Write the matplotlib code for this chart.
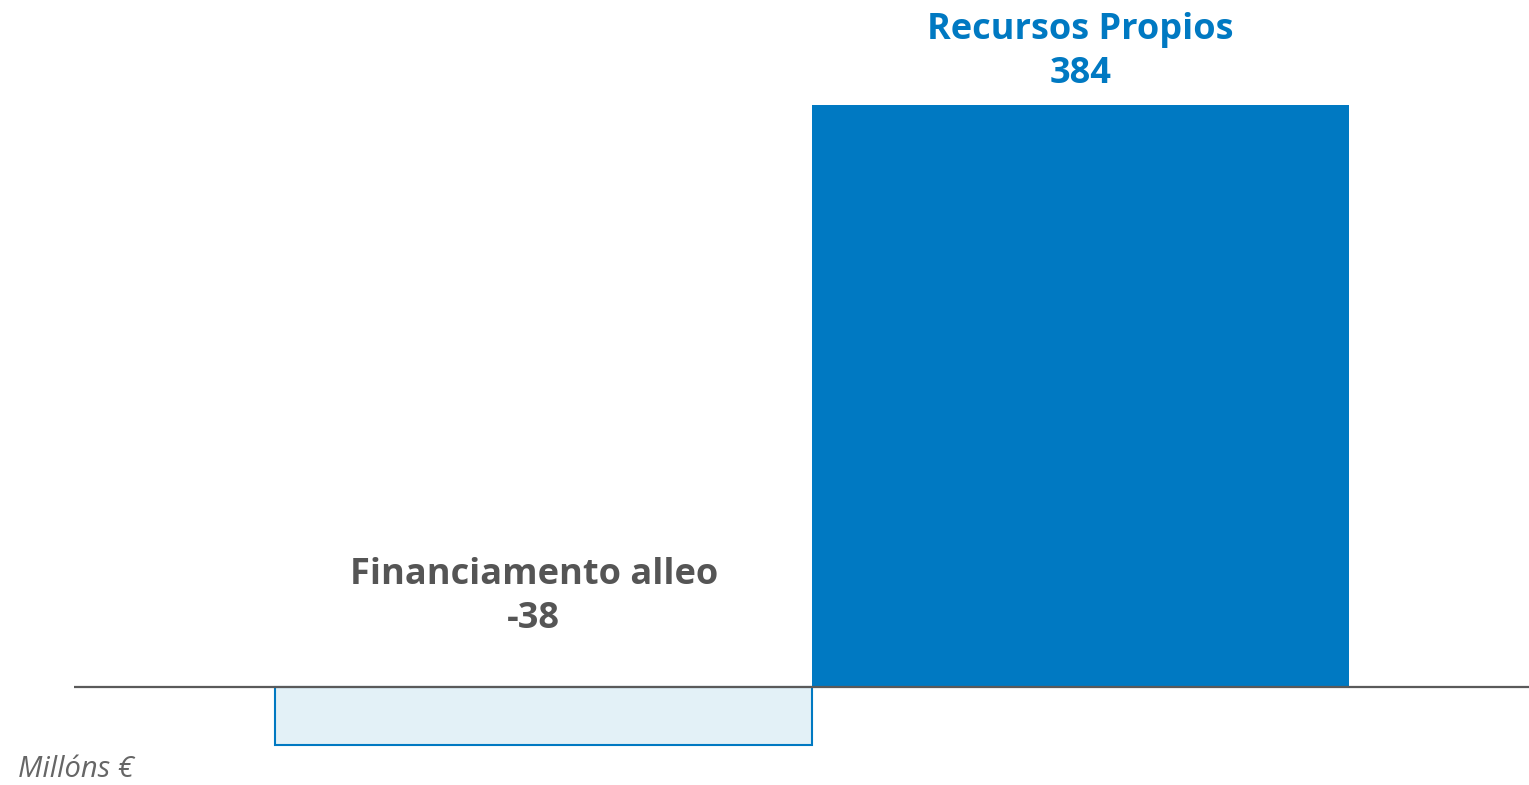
import matplotlib
matplotlib.use("Agg")
import matplotlib.pyplot as plt

categories = ["Financiamento alleo", "Recursos Propios"]
values = [-38, 384]
value_labels = ["-38", "384"]
unit_label = "Millóns €"

blue = "#0079C2"
light = "#E3F1F7"
grey_txt = "#555555"

plt.rcParams['font.family'] = ['Open Sans', 'DejaVu Sans']

fig = plt.figure(figsize=(15.29, 7.85), dpi=100)
ax = fig.add_axes([74/1529, 0, 1455/1529, 1])
ax.set_xlim(-0.874, 1.835)
ax.set_ylim(-64.6, 453.2)
ax.axis('off')

x = list(range(len(values)))
face = [light, blue]
edge = [blue, blue]
bars = ax.bar(x, values, width=1.0, color=face, edgecolor=edge, linewidth=[1.5, 0])
ax.axhline(0, color="#5a5a5a", linewidth=1.6, zorder=3)

label_colors = [grey_txt, blue]
offsets = [(-7, 36), (0, 9)]
for xi, v, cat, vl, c, off in zip(x, values, categories, value_labels, label_colors, offsets):
    top = max(v, 0)
    ax.annotate(f"{cat}\n{vl}", xy=(xi, top), xytext=off, textcoords='offset points',
                ha='center', va='bottom', fontsize=26, fontweight='bold', color=c,
                linespacing=1.3)

fig.text(18/1529, 1 - 784/785, unit_label, ha='left', va='bottom', fontsize=21,
         style='italic', color="#666666")

fig.savefig("out.png", dpi=100)
